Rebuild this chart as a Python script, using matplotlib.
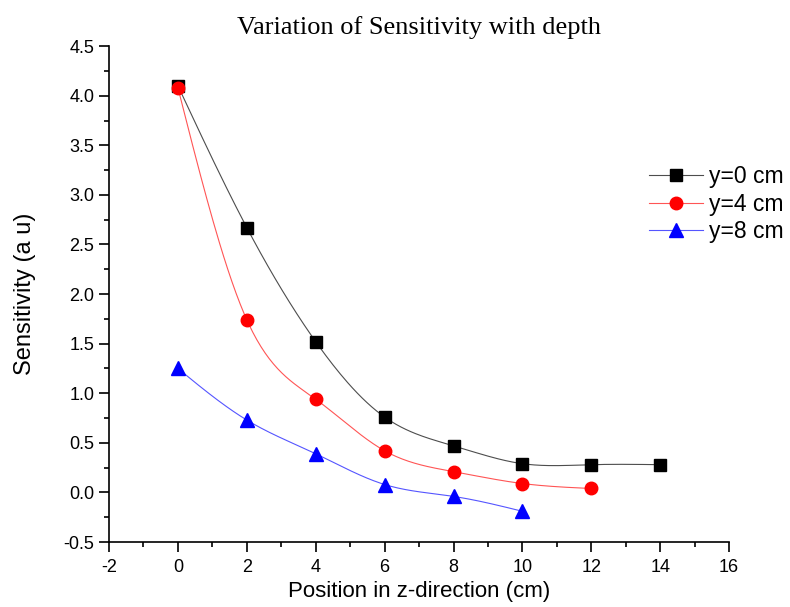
import matplotlib
matplotlib.use("Agg")
import matplotlib.pyplot as plt
from matplotlib.ticker import MultipleLocator, FormatStrFormatter
import numpy as np

plt.rcParams["axes.unicode_minus"] = False

# data
z_y0 = [0, 2, 4, 6, 8, 10, 12, 14]
s_y0 = [4.10, 2.67, 1.52, 0.76, 0.47, 0.29, 0.28, 0.28]
z_y4 = [0, 2, 4, 6, 8, 10, 12]
s_y4 = [4.08, 1.74, 0.94, 0.42, 0.21, 0.09, 0.04]
z_y8 = [0, 2, 4, 6, 8, 10]
s_y8 = [1.25, 0.73, 0.39, 0.08, -0.04, -0.19]
labels = ["y=0 cm", "y=4 cm", "y=8 cm"]


def natural_spline(x, y, n=200):
    """Natural cubic spline through the points (drawing only)."""
    x = np.asarray(x, float)
    y = np.asarray(y, float)
    k = len(x)
    h = np.diff(x)
    A = np.zeros((k, k))
    b = np.zeros(k)
    A[0, 0] = A[-1, -1] = 1.0
    for i in range(1, k - 1):
        A[i, i - 1] = h[i - 1]
        A[i, i] = 2 * (h[i - 1] + h[i])
        A[i, i + 1] = h[i]
        b[i] = 3 * ((y[i + 1] - y[i]) / h[i] - (y[i] - y[i - 1]) / h[i - 1])
    c = np.linalg.solve(A, b)
    xs = np.linspace(x[0], x[-1], n)
    idx = np.clip(np.searchsorted(x, xs) - 1, 0, k - 2)
    dx = xs - x[idx]
    hi = h[idx]
    bb = (y[idx + 1] - y[idx]) / hi - hi * (2 * c[idx] + c[idx + 1]) / 3
    dd = (c[idx + 1] - c[idx]) / (3 * hi)
    ys = y[idx] + bb * dx + c[idx] * dx ** 2 + dd * dx ** 3
    return xs, ys


fig = plt.figure(figsize=(7.9, 6.07), dpi=100)
ax = fig.add_axes([0.138, 0.107, 0.785, 0.817])

# (x, y, marker colour, line colour, marker, size)
series = [
    (z_y0, s_y0, "black", "#4d4d4d", "s", 8.5),
    (z_y4, s_y4, "red", "#ff5555", "o", 9),
    (z_y8, s_y8, "blue", "#5555ff", "^", 10),
]
handles = []
for (xv, yv, col, lcol, mk, ms), lab in zip(series, labels):
    xs, ys = natural_spline(xv, yv)
    ax.plot(xs, ys, color=lcol, lw=0.8)
    ax.plot(xv, yv, ls="none", marker=mk, ms=ms, color=col, mec=col)
    h, = ax.plot([], [], color=lcol, lw=0.8, marker=mk, ms=ms,
                 mec=col, mfc=col)
    handles.append(h)

ax.set_xlim(-2, 16)
ax.set_ylim(-0.5, 4.5)
ax.xaxis.set_major_locator(MultipleLocator(2))
ax.xaxis.set_minor_locator(MultipleLocator(1))
ax.yaxis.set_major_locator(MultipleLocator(0.5))
ax.yaxis.set_minor_locator(MultipleLocator(0.25))
ax.yaxis.set_major_formatter(FormatStrFormatter("%.1f"))

for side in ["top", "right"]:
    ax.spines[side].set_visible(False)
for side in ["left", "bottom"]:
    ax.spines[side].set_linewidth(1.2)

ax.tick_params(which="major", direction="out", length=7, width=1.2,
               labelsize=13, labelfontfamily="Liberation Sans")
ax.tick_params(axis="y", which="major", pad=3.5)
ax.tick_params(axis="x", which="major", pad=5)
ax.tick_params(which="minor", direction="out", length=3.5, width=1.2)

ax.set_xlabel("Position in z-direction (cm)", fontsize=16,
              fontfamily="Liberation Sans", labelpad=4)
ax.set_ylabel("Sensitivity (a u)", fontsize=17,
              fontfamily="Liberation Sans", labelpad=20)
fig.text(0.53, 0.955, "Variation of Sensitivity with depth", ha="center",
         va="center", fontsize=19, fontfamily="Liberation Serif")

fig.legend(handles, labels, loc="upper left", bbox_to_anchor=(0.8215, 0.728),
           frameon=False, borderpad=0, borderaxespad=0,
           prop={"family": "Liberation Sans", "size": 16.5},
           handlelength=2.35, labelspacing=0.2, handletextpad=0.25)

fig.savefig("out.png", dpi=100)
